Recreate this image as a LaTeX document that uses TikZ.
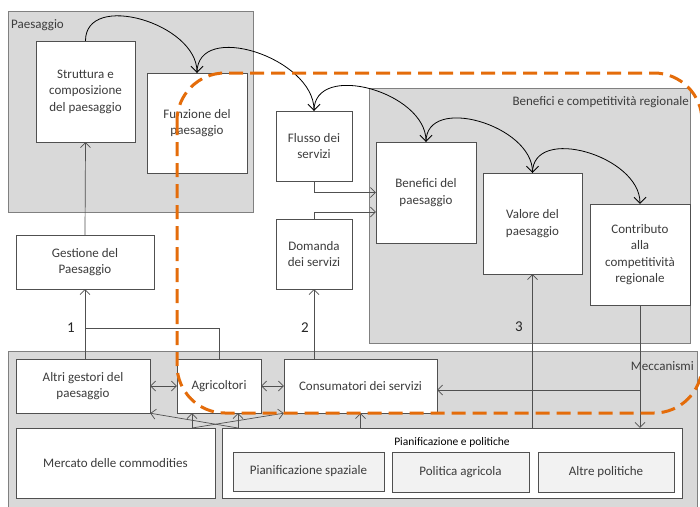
\documentclass[tikz,border=0pt]{standalone}
\usepackage{fontspec}
\setmainfont{Carlito}
\usetikzlibrary{arrows.meta, positioning, calc}

\definecolor{groupgray}{RGB}{217,217,217}
\definecolor{framegray}{RGB}{128,128,128}
\definecolor{linegray}{RGB}{80,80,80}
\definecolor{textgray}{RGB}{60,60,60}
\definecolor{policygray}{RGB}{242,242,242}
\definecolor{dashorange}{RGB}{228,108,10}

\newcommand{\boxfont}{\fontsize{13}{16.5}\selectfont}

\tikzset{
  group/.style={draw=framegray, fill=groupgray},
  box/.style={draw=linegray, fill=white, align=center, text=textgray, font=\boxfont, inner sep=2pt},
  policy/.style={box, fill=policygray},
  conn/.style={draw=linegray, line width=0.7pt, -{Straight Barb[length=5pt, width=10pt]}},
  biconn/.style={draw=linegray, line width=0.7pt, {Straight Barb[length=5pt, width=10pt]}-{Straight Barb[length=5pt, width=10pt]}},
  flow/.style={draw=black, thick, -{Straight Barb[length=6pt, width=12pt]}, out=90, in=90, looseness=1.1},
  grouplabel/.style={text=textgray, font=\boxfont, inner sep=0pt},
  num/.style={font=\fontsize{15}{18}\selectfont, text=black!85},
}

\begin{document}
\begin{tikzpicture}[x=1pt, y=-1pt]
    \useasboundingbox (0,0) rectangle (700,506);

    % Groups
    \draw[group] (8,11) rectangle (253,212);
    \draw[group] (369,88) rectangle (690,343);
    \draw[group] (8,351) rectangle (697,512);
    \node[grouplabel, anchor=west] (lpaes) at (11,25) {Paesaggio};
    \node[grouplabel, anchor=east] (lbenef) at (689,102) {Benefici e competitività regionale};
    \node[grouplabel, anchor=east] (lmecc) at (694,366) {Meccanismi};

    % Landscape and services
    \node[box, minimum width=99, minimum height=101] (struttura) at (85.5,91.5) {Struttura e\\composizione\\del paesaggio};
    \node[box, minimum width=100, minimum height=100] (funzione) at (197,123) {Funzione del\\paesaggio};
    \node[box, minimum width=76, minimum height=70] (flusso) at (314,146) {Flusso dei\\servizi};
    \node[box, minimum width=76, minimum height=70] (domanda) at (314,254) {Domanda\\dei servizi};
    \node[box, minimum width=138, minimum height=54] (gestione) at (85,262) {Gestione del\\Paesaggio};

    % Benefits
    \node[box, minimum width=100, minimum height=101] (benefici) at (426,192.5) {Benefici del\\paesaggio};
    \node[box, minimum width=99, minimum height=101] (valore) at (532.5,223.5) {Valore del\\paesaggio};
    \node[box, minimum width=100, minimum height=101] (contributo) at (640,254.5) {Contributo\\alla\\competitività\\regionale};

    % Mechanisms
    \node[box, minimum width=134, minimum height=54] (altri) at (83,386) {Altri gestori del\\paesaggio};
    \node[box, minimum width=84, minimum height=54] (agricoltori) at (219,386) {Agricoltori};
    \node[box, minimum width=153, minimum height=54] (consumatori) at (360.5,386) {Consumatori dei servizi};
    \node[box, minimum width=199, minimum height=70] (mercato) at (115.5,463) {Mercato delle commodities};
    \node[box, minimum width=460, minimum height=70] (pianif) at (452,463) {};
    \node[font=\fontsize{11.5}{14}\selectfont, text=black] (lpian) at (452,442) {Pianificazione e politiche};
    \node[policy, minimum width=151, minimum height=39] (spaziale) at (308.5,471.5) {Pianificazione spaziale};
    \node[policy, minimum width=137, minimum height=40] (agricola) at (460.5,472) {Politica agricola};
    \node[policy, minimum width=136, minimum height=40] (altrepol) at (606,472) {Altre politiche};

    % Main chain
    \draw[flow] (struttura.north) to (funzione.north);
    \draw[flow] (funzione.north) to (flusso.north);
    \draw[flow] (flusso.north) to (benefici.north);
    \draw[flow] (benefici.north) to (valore.north);
    \draw[flow] (valore.north) to (contributo.north);

    % Feedback 1
    \draw[conn] (gestione.north) -- (struttura.south);
    \draw[conn] (altri.north -| gestione.south) -- (gestione.south);
    \coordinate (j1) at (85,328);
    \draw[linegray, line width=0.7pt] (agricoltori.north) |- (j1);
    \node[num] (n1) at (71,328) {1};

    % Feedback 2
    \draw[conn] (consumatori.north -| domanda.south) -- (domanda.south);
    \node[num] (n2) at (305,328) {2};
    \draw[conn] (flusso.south) |- (benefici.west);
    \draw[conn] (domanda.north) |- ($(benefici.west)+(0,19.5)$);

    % Feedback 3
    \draw[conn] (pianif.north -| valore.south) -- (valore.south);
    \node[num] (n3) at (519,327) {3};
    \draw[conn] (contributo.south) -- (contributo.south |- pianif.north);
    \draw[conn] ($(consumatori.east -| contributo.south)+(0,4)$) -- ($(consumatori.east)+(0,4)$);

    % Actors
    \draw[biconn] (altri.east) -- (agricoltori.west);
    \draw[biconn] (agricoltori.east) -- (consumatori.west);
    \coordinate (mtop) at (192,428);
    \coordinate (ptop) at (238,428);
    \draw[conn] (mtop) -- (mtop |- agricoltori.south);
    \draw[conn] (ptop) -- (ptop |- agricoltori.south);
    \draw[conn] (mtop) -- (consumatori.south west);
    \draw[conn] (ptop) -- (altri.south east);
    \draw[conn] (pianif.north -| consumatori.south) -- (consumatori.south);

    % Dashed outline
    \draw[dashorange, line width=3pt, dash pattern=on 14pt off 7pt, rounded corners=48pt] (177,73) rectangle (702,413);

\end{tikzpicture}
\end{document}
